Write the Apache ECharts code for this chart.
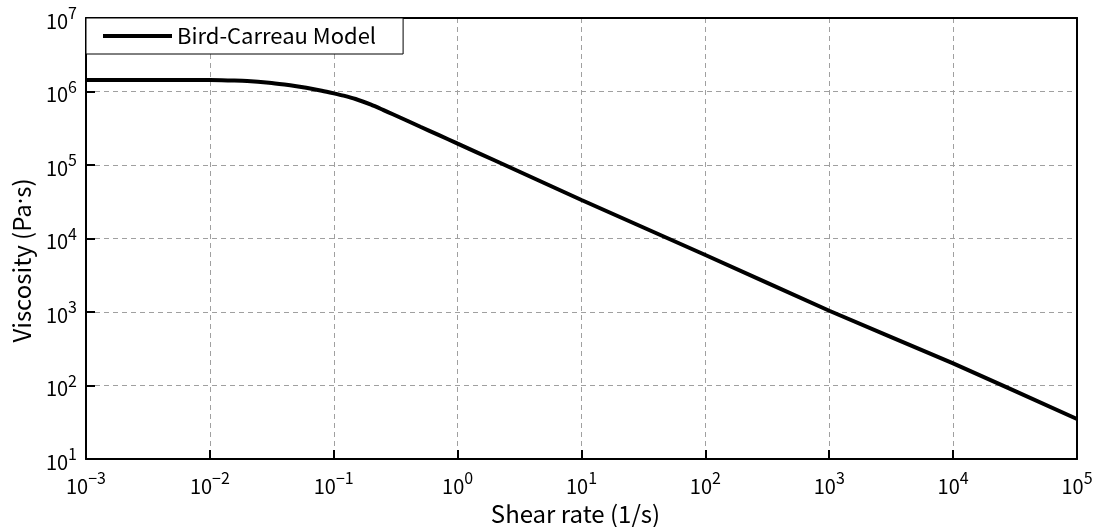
<!DOCTYPE html>
<html>
<head>
<meta charset="utf-8">
<script src="https://cdn.jsdelivr.net/npm/echarts@6/dist/echarts.min.js"></script>
<style>
  html, body { margin: 0; padding: 0; background: #fff; }
  #chart { width: 1094px; height: 527px; }
</style>
</head>
<body>
<div id="chart"></div>
<script>
// Bird-Carreau viscosity curve: shear rate (1/s) vs viscosity (Pa·s)
const shearRate = [0.001, 0.005, 0.01, 0.015, 0.02, 0.03, 0.04, 0.05, 0.06, 0.08,
                   0.1, 0.12, 0.15, 0.2, 0.25, 0.3, 0.4, 0.5, 0.7, 1,
                   2, 5, 10, 100, 1000, 10000, 100000];
const viscosity = [1.43e6, 1.43e6, 1.43e6, 1.41e6, 1.39e6, 1.32e6, 1.246e6, 1.181e6, 1.122e6, 1.024e6,
                   9.44e5, 8.79e5, 7.91e5, 6.61e5, 5.62e5, 4.90e5, 3.94e5, 3.31e5, 2.57e5, 1.95e5,
                   1.15e5, 5.69e4, 3.34e4, 5.97e3, 1.04e3, 200, 35];

// Axis decade exponents (tick labels are 10^n)
const xExponents = [-3, -2, -1, 0, 1, 2, 3, 4, 5];
const yExponents = [1, 2, 3, 4, 5, 6, 7];

const seriesName = 'Bird-Carreau Model';
const FONT = '"Noto Sans CJK SC", "Noto Sans", sans-serif';
const LATIN = '"Noto Sans", "DejaVu Sans", sans-serif';

function powLabel(v) {
  const e = Math.round(Math.log10(v));
  const s = e < 0 ? '\u2212' + Math.abs(e) : String(e);
  return '{b|10}{e|' + s + '}';
}
const richPow = {
  b: { fontSize: 20, fontFamily: FONT, color: '#000', lineHeight: 26, verticalAlign: 'bottom' },
  e: { fontSize: 16, fontFamily: FONT, color: '#000', lineHeight: 26, verticalAlign: 'top' }
};
const gridDash = { color: '#a0a0a0', width: 1, type: [5, 4] };

const xMin = Math.pow(10, xExponents[0]);
const xMax = Math.pow(10, xExponents[xExponents.length - 1]);
const yMin = Math.pow(10, yExponents[0]);
const yMax = Math.pow(10, yExponents[yExponents.length - 1]);

// plain frame axes for the top and right edges of the plot box
const frameLine = { show: true, lineStyle: { color: '#000', width: 2 } };

const chart = echarts.init(document.getElementById('chart'));
chart.setOption({
  animation: false,
  backgroundColor: '#fff',
  grid: { left: 86, right: 17, top: 18, bottom: 68, show: false, outerBoundsMode: 'none', containLabel: false },
  legend: {
    left: 86, top: 18,
    data: [seriesName],
    icon: 'rect',
    itemWidth: 69, itemHeight: 4, itemGap: 9,
    padding: [7, 27, 7, 17],
    backgroundColor: '#fff',
    borderColor: '#000', borderWidth: 1, borderRadius: 0,
    textStyle: { fontSize: 22, fontFamily: FONT, color: '#000', lineHeight: 22 }
  },
  xAxis: [{
    type: 'log', logBase: 10, min: xMin, max: xMax,
    splitNumber: xExponents.length - 1,
    name: 'Shear rate (1/s)', nameLocation: 'middle', nameGap: 43,
    nameTextStyle: { fontSize: 24, fontFamily: FONT, color: '#000', padding: [0, 12, 0, 0] },
    axisLine: { show: true, onZero: false, lineStyle: { color: '#000', width: 2 } },
    axisTick: { show: true, inside: true, length: 9, lineStyle: { color: '#000', width: 2 } },
    minorTick: { show: false },
    axisLabel: { margin: 11, formatter: powLabel, rich: richPow },
    splitLine: { show: true, lineStyle: gridDash }
  }, {
    type: 'log', logBase: 10, min: xMin, max: xMax, position: 'top',
    axisLine: frameLine, axisTick: { show: false }, axisLabel: { show: false },
    splitLine: { show: false }
  }],
  yAxis: [{
    type: 'log', logBase: 10, min: yMin, max: yMax,
    splitNumber: yExponents.length - 1,
    name: '{t|Viscosity (Pa}{d|\u00b7}{t|s)}', nameLocation: 'middle', nameGap: 52,
    nameTextStyle: {
      fontSize: 24, fontFamily: FONT, color: '#000', padding: [0, 44, 0, 0],
      rich: {
        t: { fontSize: 24, fontFamily: FONT, color: '#000' },
        d: { fontSize: 24, fontFamily: LATIN, color: '#000' }
      }
    },
    axisLine: { show: true, onZero: false, lineStyle: { color: '#000', width: 2 } },
    axisTick: { show: true, inside: true, length: 9, lineStyle: { color: '#000', width: 2 } },
    minorTick: { show: false },
    axisLabel: { margin: 9, formatter: powLabel, rich: richPow },
    splitLine: { show: true, lineStyle: gridDash }
  }, {
    type: 'log', logBase: 10, min: yMin, max: yMax, position: 'right',
    axisLine: frameLine, axisTick: { show: false }, axisLabel: { show: false },
    splitLine: { show: false }
  }],
  series: [{
    name: seriesName,
    type: 'line',
    data: shearRate.map((x, i) => [x, viscosity[i]]),
    showSymbol: false,
    smooth: 0.25,
    lineStyle: { color: '#000', width: 4 },
    itemStyle: { color: '#000' },
    z: 3
  }]
});
</script>
</body>
</html>
